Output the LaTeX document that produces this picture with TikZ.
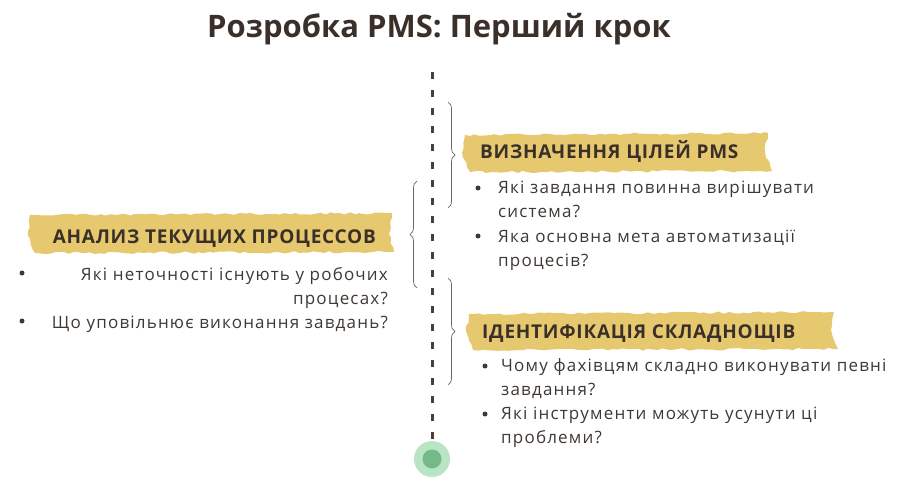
\documentclass[tikz,border=0pt]{standalone}
\usepackage{fontspec}
\setmainfont{Open Sans}
\newfontfamily\bodyfont[LetterSpace=7]{Open Sans}
\newfontfamily\headfont[LetterSpace=4]{Open Sans}
\usetikzlibrary{decorations.pathreplacing,decorations.pathmorphing}
\definecolor{ink}{HTML}{3A2F29}
\definecolor{txt}{HTML}{3F3833}
\definecolor{brush}{HTML}{E6C96F}
\definecolor{dashc}{HTML}{4A3E35}
\definecolor{bracec}{HTML}{6E645C}
\definecolor{gout}{HTML}{B9E5C5}
\definecolor{gin}{HTML}{75B986}
\tikzset{
  titletext/.style={font=\fontsize{31}{36}\selectfont\bfseries, text=ink, inner sep=0pt},
  headtext/.style={font=\headfont\fontsize{19}{22}\selectfont\bfseries, text=ink, inner sep=0pt},
  bodytext/.style={font=\bodyfont\fontsize{17}{24}\selectfont, text=txt, inner sep=0pt},
  brushfill/.style={fill=brush, decorate, decoration={random steps, segment length=5pt, amplitude=1.2pt}},
  dot/.style={circle, fill=txt, inner sep=0pt, minimum size=5pt},
  bracestyle/.style={draw=bracec, line width=0.7pt, decorate, decoration={brace, amplitude=7pt}},
  timeline/.style={draw=dashc, line width=3pt, dash pattern=on 7pt off 11pt}
}
\begin{document}
\begin{tikzpicture}[x=1pt,y=-1pt]
\pgfmathsetseed{11}
\useasboundingbox (0,0) rectangle (913,500);
% title
\node[titletext, anchor=base] (title) at (439,38) {Розробка PMS: Перший крок};
% timeline
\coordinate (ltop) at (432,72);
\node[circle, fill=gout, minimum size=36pt, inner sep=0pt] (end) at (432,459) {};
\node[circle, fill=gin, minimum size=19pt, inner sep=0pt] (endin) at (end) {};
\draw[timeline] (ltop) -- (end.north);
% braces
\coordinate (r1a) at (448,102);
\coordinate (r1b) at (448,208);
\coordinate (r2a) at (448,278);
\coordinate (r2b) at (448,385);
\coordinate (l1a) at (417,288);
\coordinate (l1b) at (417,181);
\draw[bracestyle] (r1a) -- (r1b);
\draw[bracestyle] (r2a) -- (r2b);
\draw[bracestyle] (l1a) -- (l1b);
% highlights (brush strokes)
\fill[brushfill] (30,215) -- (392,213) -- (389,234) -- (394,252) -- (35,253) -- (28,236) -- cycle;
\fill[brushfill] (465,135) -- (768,133) -- (765,152) -- (772,171) -- (470,172) -- (462,153) -- cycle;
\fill[brushfill] (469,314) -- (834,312) -- (831,330) -- (838,349) -- (473,350) -- (466,331) -- cycle;
% headings
\node[headtext, anchor=base east] (h1) at (376,243) {АНАЛИЗ ТЕКУЩИХ ПРОЦЕССОВ};
\node[headtext, anchor=base west] (h2) at (480,159) {ВИЗНАЧЕННЯ ЦІЛЕЙ PMS};
\node[headtext, anchor=base west] (h3) at (482,338) {ІДЕНТИФІКАЦІЯ СКЛАДНОЩІВ};
% left block (base = baseline of last line)
\node[bodytext, anchor=base east, align=right] (l1) at (388,304) {Які неточності існують у робочих\\процесах?};
\node[bodytext, anchor=base east, align=right] (l2) at (388,328) {Що уповільнює виконання завдань?};
\node[dot] (dl1) at (22,273) {};
\node[dot] (dl2) at (22,321) {};
% right block 1
\node[bodytext, anchor=base west, align=left] (r11) at (498,217) {Які завдання повинна вирішувати\\система?};
\node[bodytext, anchor=base west, align=left] (r12) at (498,266) {Яка основна мета автоматизації\\процесів?};
\node[dot] (d11) at (478,188) {};
\node[dot] (d12) at (478,236) {};
% right block 2
\node[bodytext, anchor=base west, align=left] (r21) at (501,395) {Чому фахівцям складно виконувати певні\\завдання?};
\node[bodytext, anchor=base west, align=left] (r22) at (501,443) {Які інструменти можуть усунути ці\\проблеми?};
\node[dot] (d21) at (485,366) {};
\node[dot] (d22) at (485,414) {};
\end{tikzpicture}
\end{document}
